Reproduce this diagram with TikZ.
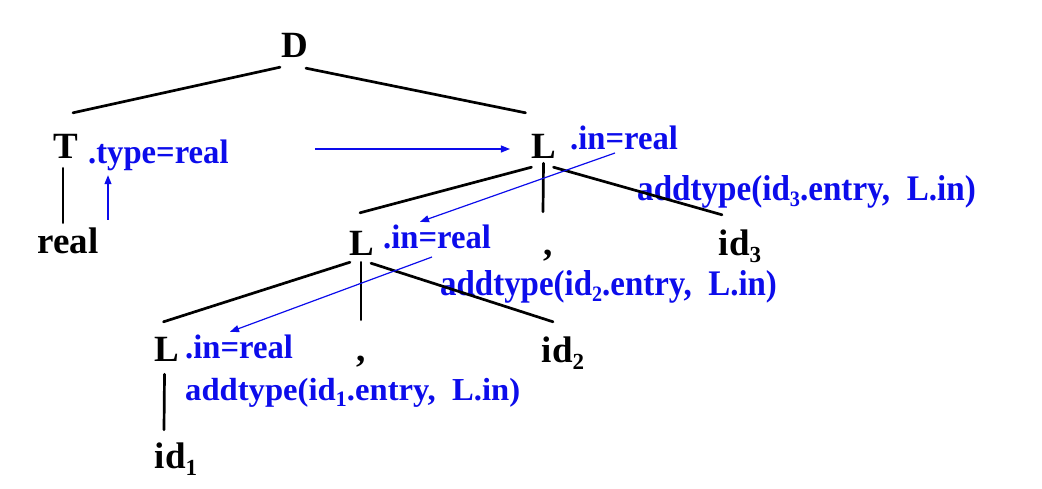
\documentclass[tikz,border=0pt]{standalone}
\usepackage{fontspec}
\usepackage{graphicx}
\setmainfont{Liberation Serif}
\usetikzlibrary{calc,arrows.meta}
\definecolor{lblue}{RGB}{12,12,235}
\newcommand{\bkfont}{\fontsize{37}{40}\selectfont\bfseries}
\newcommand{\blfont}{\fontsize{34}{36}\selectfont\bfseries}
\newcommand{\bigblfont}{\fontsize{36}{38}\selectfont\bfseries}
\newcommand{\smblfont}{\fontsize{32}{34}\selectfont\bfseries}
\newcommand{\sbk}[1]{\raisebox{-7pt}{\fontsize{23}{23}\selectfont #1}}
\newcommand{\sbl}[1]{\raisebox{-6pt}{\fontsize{22}{22}\selectfont #1}}
\begin{document}
\begin{tikzpicture}[x=1pt,y=-1pt,
  tn/.style={font=\bkfont, inner sep=0pt, text height=25pt, text depth=0pt, anchor=base},
  bt/.style={font=\blfont, text=lblue, inner sep=0pt, text height=22pt, text depth=7pt, anchor=base west},
  edge/.style={line width=2.7pt, line cap=round},
  barrow/.style={draw=lblue, line width=1.2pt, -{Triangle[length=9pt,width=7pt]}}]
\useasboundingbox (0,0) rectangle (1042,488);
% black tree nodes
\node[tn] (D) at (295,57) {D};
\node[tn] (T) at (66,158) {T};
\node[tn] (real) at (68,253) {real};
\node[tn] (L1) at (543.5,158) {L};
\node[tn] (L2) at (362,255) {L};
\node[tn] (c1) at (548,255) {,};
\node[tn] (id3) at (740,255) {id\sbk{3}};
\node[tn] (L3) at (166.5,361) {L};
\node[tn] (c2) at (361,361) {,};
\node[tn] (id2) at (563,362) {id\sbk{2}};
\node[tn] (id1) at (176,468) {id\sbk{1}};
% blue attribute texts
\node[bt] (ty) at (88,163) {\scalebox{0.96}[1]{.type=real}};
\node[bt] (in1) at (570,149) {\scalebox{0.96}[1]{.in=real}};
\node[bt, font=\bigblfont] (ad3) at (637,200) {\scalebox{0.92}[1]{addtype(id\sbl{3}.entry,\ \ L.in)}};
\node[bt] (in2) at (383,248) {\scalebox{0.96}[1]{.in=real}};
\node[bt, font=\bigblfont] (ad2) at (440,295) {\scalebox{0.915}[1]{addtype(id\sbl{2}.entry,\ \ L.in)}};
\node[bt] (in3) at (185,358) {\scalebox{0.96}[1]{.in=real}};
\node[bt, font=\smblfont] (ad1) at (185,400) {\scalebox{1.02}[1]{addtype(id\sbl{1}.entry,\ \ L.in)}};
% tree edges
\draw[edge] ($(D.south)+(-15,10)$) -- ($(T.north)+(7,-20)$);
\draw[edge] ($(D.south)+(11,11)$) -- ($(L1.north)+(-18,-20)$);
\draw[edge] ($(T.south)+(-3,10)$) -- ($(real.north)+(-5,-5)$);
\draw[edge] ($(L1.south)+(-12,9)$) -- ($(L2.north)+(-2,-17)$);
\draw[edge] ($(L1.south)+(0,5)$) -- ($(c1.north)+(-5,-18)$);
\draw[edge] ($(L1.south)+(10,9)$) -- ($(id3.north)+(-18,-15)$);
\draw[edge] ($(L2.south)+(-12,7)$) -- ($(L3.north)+(-3,-14)$);
\draw[edge] ($(L2.south)+(-1,7)$) -- ($(c2.north)+(0,-16)$);
\draw[edge] ($(L2.south)+(9,8)$) -- ($(id2.north)+(-10,-15)$);
\draw[edge] ($(L3.south)+(-2,13)$) -- ($(id1.north)+(-12,-13)$);
% blue dependency arrows
\draw[barrow] ($(real.north)+(40,-8)$) -- ($(ty.south west)+(20,5)$);
\draw[barrow] ($(ty.east)+(86,-6.5)$) -- ($(L1.west)+(-21,3.5)$);
\draw[barrow] ($(in1.base west)+(45,4)$) -- ($(L2.north)+(58,-8)$);
\draw[barrow] ($(in2.base west)+(49,9)$) -- ($(L3.north)+(63.5,-4)$);
\end{tikzpicture}
\end{document}
